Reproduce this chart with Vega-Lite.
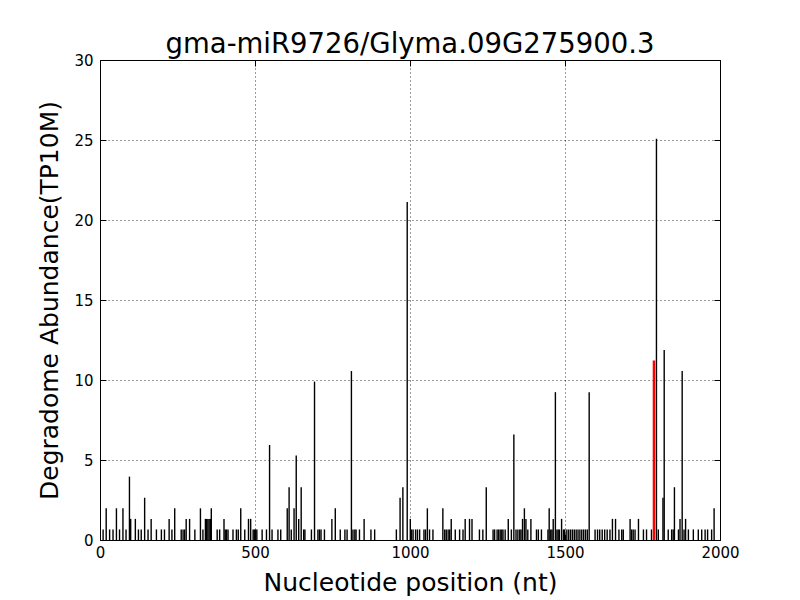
{
  "$schema": "https://vega.github.io/schema/vega-lite/v6.json",
  "width": 620,
  "height": 480,
  "autosize": {"type": "none"},
  "padding": {"left": 100, "top": 60, "right": 80, "bottom": 60},
  "background": "white",
  "title": {"text": "gma-miR9726/Glyma.09G275900.3", "fontSize": 27.5, "font": "DejaVu Sans", "fontWeight": "normal", "color": "black", "offset": -5},
  "config": {
    "view": {"stroke": "black", "strokeWidth": 1},
    "axis": {
      "labelFont": "DejaVu Sans", "titleFont": "DejaVu Sans",
      "labelColor": "black", "titleColor": "black", "titleFontWeight": "normal",
      "domain": false, "tickColor": "black", "labelFontSize": 15, "titleFontSize": 25,
      "gridColor": "black", "gridOpacity": 1, "gridDash": [1, 3], "gridWidth": 0.8,
      "tickSize": -6, "labelFlush": false, "labelOverlap": false
    }
  },
  "data": {"values": [
    {"pos":10,"tp":0.66,"c":0},{"pos":20,"tp":1.98,"c":0},{"pos":31,"tp":0.66,"c":0},{"pos":42,"tp":0.66,"c":0},{"pos":53,"tp":1.98,"c":0},{"pos":63,"tp":0.66,"c":0},{"pos":74,"tp":1.98,"c":0},{"pos":84,"tp":0.66,"c":0},{"pos":95,"tp":3.96,"c":0},{"pos":99,"tp":1.32,"c":0},{"pos":114,"tp":1.32,"c":0},{"pos":124,"tp":0.66,"c":0},{"pos":133,"tp":0.66,"c":0},{"pos":144,"tp":2.64,"c":0},{"pos":155,"tp":0.66,"c":0},{"pos":165,"tp":1.32,"c":0},{"pos":182,"tp":0.66,"c":0},{"pos":198,"tp":0.66,"c":0},{"pos":208,"tp":0.66,"c":0},{"pos":223,"tp":1.32,"c":0},{"pos":232,"tp":0.66,"c":0},{"pos":241,"tp":1.98,"c":0},{"pos":262,"tp":0.66,"c":0},{"pos":268,"tp":0.66,"c":0},{"pos":273,"tp":0.66,"c":0},{"pos":278,"tp":1.32,"c":0},{"pos":289,"tp":1.32,"c":0},{"pos":306,"tp":0.66,"c":0},{"pos":324,"tp":1.98,"c":0},{"pos":332,"tp":0.66,"c":0},{"pos":340,"tp":1.32,"c":0},{"pos":344,"tp":1.32,"c":0},{"pos":348,"tp":1.32,"c":0},{"pos":352,"tp":1.32,"c":0},{"pos":356,"tp":1.32,"c":0},{"pos":359,"tp":1.98,"c":0},{"pos":378,"tp":0.66,"c":0},{"pos":386,"tp":0.66,"c":0},{"pos":400,"tp":1.32,"c":0},{"pos":404,"tp":0.66,"c":0},{"pos":408,"tp":0.66,"c":0},{"pos":413,"tp":0.66,"c":0},{"pos":429,"tp":0.66,"c":0},{"pos":440,"tp":0.66,"c":0},{"pos":446,"tp":0.66,"c":0},{"pos":454,"tp":1.98,"c":0},{"pos":467,"tp":0.66,"c":0},{"pos":479,"tp":1.32,"c":0},{"pos":486,"tp":1.32,"c":0},{"pos":494,"tp":0.66,"c":0},{"pos":498,"tp":0.66,"c":0},{"pos":502,"tp":0.66,"c":0},{"pos":506,"tp":0.66,"c":0},{"pos":523,"tp":0.66,"c":0},{"pos":537,"tp":0.66,"c":0},{"pos":547,"tp":5.94,"c":0},{"pos":555,"tp":0.66,"c":0},{"pos":574,"tp":0.66,"c":0},{"pos":583,"tp":0.66,"c":0},{"pos":604,"tp":1.98,"c":0},{"pos":610,"tp":3.3,"c":0},{"pos":617,"tp":0.66,"c":0},{"pos":626,"tp":1.98,"c":0},{"pos":633,"tp":5.28,"c":0},{"pos":641,"tp":1.32,"c":0},{"pos":649,"tp":3.3,"c":0},{"pos":657,"tp":0.66,"c":0},{"pos":661,"tp":0.66,"c":0},{"pos":682,"tp":0.66,"c":0},{"pos":692,"tp":9.9,"c":0},{"pos":703,"tp":0.66,"c":0},{"pos":708,"tp":0.66,"c":0},{"pos":713,"tp":0.66,"c":0},{"pos":724,"tp":0.66,"c":0},{"pos":748,"tp":1.32,"c":0},{"pos":759,"tp":1.98,"c":0},{"pos":775,"tp":0.66,"c":0},{"pos":790,"tp":0.66,"c":0},{"pos":797,"tp":0.66,"c":0},{"pos":811,"tp":10.56,"c":0},{"pos":816,"tp":0.66,"c":0},{"pos":822,"tp":0.66,"c":0},{"pos":826,"tp":0.66,"c":0},{"pos":837,"tp":0.66,"c":0},{"pos":852,"tp":1.32,"c":0},{"pos":874,"tp":0.66,"c":0},{"pos":886,"tp":0.66,"c":0},{"pos":956,"tp":0.66,"c":0},{"pos":968,"tp":2.64,"c":0},{"pos":977,"tp":3.3,"c":0},{"pos":991,"tp":21.12,"c":0},{"pos":1001,"tp":1.32,"c":0},{"pos":1005,"tp":0.66,"c":0},{"pos":1010,"tp":0.66,"c":0},{"pos":1018,"tp":0.66,"c":0},{"pos":1024,"tp":0.66,"c":0},{"pos":1031,"tp":0.66,"c":0},{"pos":1045,"tp":0.66,"c":0},{"pos":1050,"tp":0.66,"c":0},{"pos":1056,"tp":1.98,"c":0},{"pos":1063,"tp":0.66,"c":0},{"pos":1074,"tp":0.66,"c":0},{"pos":1106,"tp":1.98,"c":0},{"pos":1112,"tp":0.66,"c":0},{"pos":1117,"tp":0.66,"c":0},{"pos":1123,"tp":0.66,"c":0},{"pos":1128,"tp":0.66,"c":0},{"pos":1133,"tp":1.32,"c":0},{"pos":1146,"tp":0.66,"c":0},{"pos":1160,"tp":0.66,"c":0},{"pos":1171,"tp":0.66,"c":0},{"pos":1178,"tp":1.32,"c":0},{"pos":1192,"tp":1.32,"c":0},{"pos":1200,"tp":1.32,"c":0},{"pos":1224,"tp":0.66,"c":0},{"pos":1235,"tp":0.66,"c":0},{"pos":1246,"tp":3.3,"c":0},{"pos":1268,"tp":0.66,"c":0},{"pos":1273,"tp":0.66,"c":0},{"pos":1281,"tp":0.66,"c":0},{"pos":1286,"tp":0.66,"c":0},{"pos":1291,"tp":0.66,"c":0},{"pos":1296,"tp":0.66,"c":0},{"pos":1300,"tp":0.66,"c":0},{"pos":1307,"tp":0.66,"c":0},{"pos":1317,"tp":1.32,"c":0},{"pos":1327,"tp":0.66,"c":0},{"pos":1335,"tp":6.6,"c":0},{"pos":1342,"tp":0.66,"c":0},{"pos":1348,"tp":0.66,"c":0},{"pos":1354,"tp":0.66,"c":0},{"pos":1358,"tp":0.66,"c":0},{"pos":1363,"tp":1.32,"c":0},{"pos":1369,"tp":1.98,"c":0},{"pos":1374,"tp":1.32,"c":0},{"pos":1380,"tp":0.66,"c":0},{"pos":1390,"tp":1.32,"c":0},{"pos":1408,"tp":0.66,"c":0},{"pos":1414,"tp":0.66,"c":0},{"pos":1424,"tp":0.66,"c":0},{"pos":1445,"tp":0.66,"c":0},{"pos":1449,"tp":1.98,"c":0},{"pos":1454,"tp":0.66,"c":0},{"pos":1458,"tp":0.66,"c":0},{"pos":1462,"tp":1.32,"c":0},{"pos":1469,"tp":9.24,"c":0},{"pos":1474,"tp":0.66,"c":0},{"pos":1478,"tp":0.66,"c":0},{"pos":1482,"tp":0.66,"c":0},{"pos":1489,"tp":1.32,"c":0},{"pos":1495,"tp":0.66,"c":0},{"pos":1499,"tp":0.66,"c":0},{"pos":1506,"tp":0.66,"c":0},{"pos":1512,"tp":0.66,"c":0},{"pos":1518,"tp":0.66,"c":0},{"pos":1524,"tp":0.66,"c":0},{"pos":1530,"tp":0.66,"c":0},{"pos":1536,"tp":0.66,"c":0},{"pos":1542,"tp":0.66,"c":0},{"pos":1548,"tp":0.66,"c":0},{"pos":1554,"tp":0.66,"c":0},{"pos":1560,"tp":0.66,"c":0},{"pos":1566,"tp":0.66,"c":0},{"pos":1572,"tp":0.66,"c":0},{"pos":1578,"tp":9.24,"c":0},{"pos":1597,"tp":0.66,"c":0},{"pos":1605,"tp":0.66,"c":0},{"pos":1612,"tp":0.66,"c":0},{"pos":1620,"tp":0.66,"c":0},{"pos":1628,"tp":0.66,"c":0},{"pos":1636,"tp":0.66,"c":0},{"pos":1645,"tp":0.66,"c":0},{"pos":1653,"tp":1.32,"c":0},{"pos":1663,"tp":1.32,"c":0},{"pos":1674,"tp":0.66,"c":0},{"pos":1683,"tp":0.66,"c":0},{"pos":1688,"tp":0.66,"c":0},{"pos":1710,"tp":1.32,"c":0},{"pos":1715,"tp":0.66,"c":0},{"pos":1720,"tp":0.66,"c":0},{"pos":1726,"tp":0.66,"c":0},{"pos":1737,"tp":1.32,"c":0},{"pos":1753,"tp":0.66,"c":0},{"pos":1763,"tp":0.66,"c":0},{"pos":1779,"tp":0.66,"c":0},{"pos":1795,"tp":25.08,"c":0},{"pos":1801,"tp":0.66,"c":0},{"pos":1816,"tp":2.64,"c":0},{"pos":1820,"tp":11.88,"c":0},{"pos":1833,"tp":0.66,"c":0},{"pos":1844,"tp":0.66,"c":0},{"pos":1849,"tp":0.66,"c":0},{"pos":1853,"tp":3.3,"c":0},{"pos":1866,"tp":0.66,"c":0},{"pos":1871,"tp":1.32,"c":0},{"pos":1878,"tp":10.56,"c":0},{"pos":1884,"tp":0.66,"c":0},{"pos":1889,"tp":1.32,"c":0},{"pos":1898,"tp":0.66,"c":0},{"pos":1914,"tp":0.66,"c":0},{"pos":1930,"tp":0.66,"c":0},{"pos":1941,"tp":0.66,"c":0},{"pos":1952,"tp":0.66,"c":0},{"pos":1960,"tp":0.66,"c":0},{"pos":1973,"tp":0.66,"c":0},{"pos":1981,"tp":1.98,"c":0},
    {"pos":1787,"tp":11.22,"c":1}
  ]},
  "layer": [
    {
      "transform": [{"filter": "datum.c == 0"}],
      "mark": {"type": "rule", "color": "black", "strokeWidth": 1.4},
      "encoding": {
        "x": {"field": "pos", "type": "quantitative", "scale": {"domain": [0, 2000], "nice": false},
              "axis": {"values": [0, 500, 1000, 1500, 2000], "title": "Nucleotide position (nt)", "grid": true, "labelPadding": 11, "titlePadding": 10, "format": "d"}},
        "y": {"field": "tp", "type": "quantitative", "scale": {"domain": [0, 30], "nice": false},
              "axis": {"values": [0, 5, 10, 15, 20, 25, 30], "title": "Degradome Abundance(TP10M)", "grid": true, "labelPadding": 13, "titlePadding": 11, "format": "d"}},
        "y2": {"datum": 0}
      }
    },
    {
      "transform": [{"filter": "datum.c == 1"}],
      "mark": {"type": "rule", "color": "red", "strokeWidth": 2.5},
      "encoding": {
        "x": {"field": "pos", "type": "quantitative", "axis": {"orient": "top", "values": [0, 500, 1000, 1500, 2000], "labels": false, "title": null, "grid": false}},
        "y": {"field": "tp", "type": "quantitative", "axis": {"orient": "right", "values": [0, 5, 10, 15, 20, 25, 30], "labels": false, "title": null, "grid": false}},
        "y2": {"datum": 0}
      }
    }
  ],
  "resolve": {"axis": {"x": "independent", "y": "independent"}}
}
